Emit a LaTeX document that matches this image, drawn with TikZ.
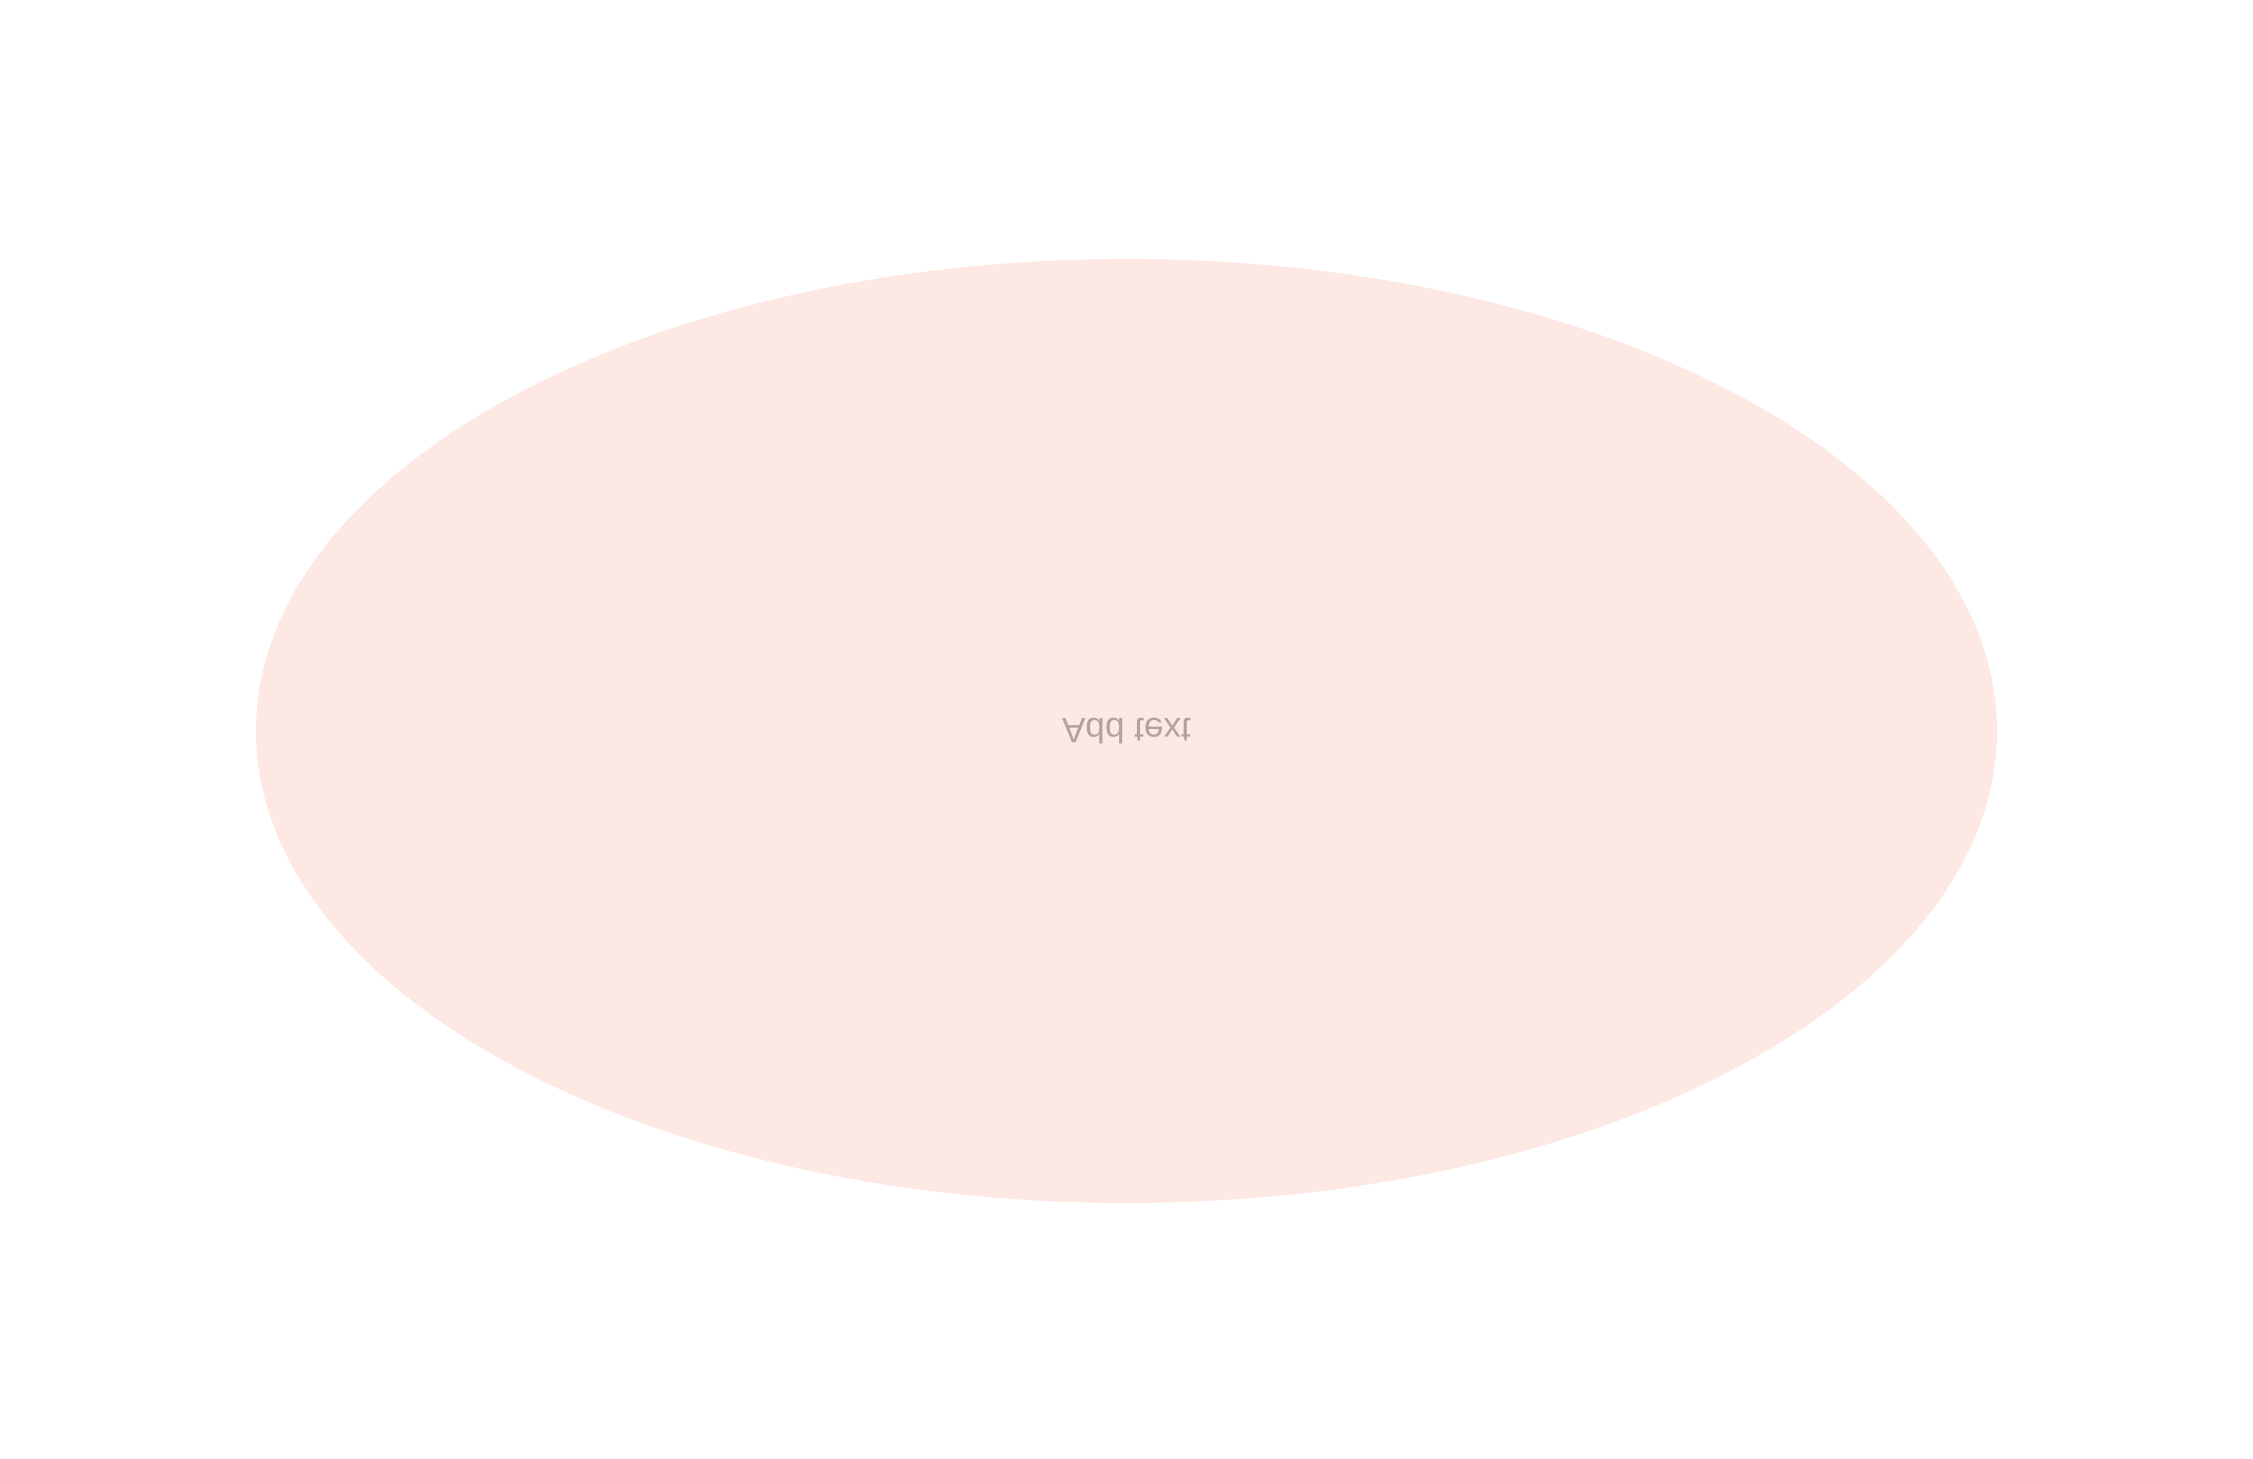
\documentclass[tikz,border=0pt]{standalone}
\usepackage{fontspec}
\setmainfont{Liberation Sans}
\usetikzlibrary{shapes.geometric}
\definecolor{blobfill}{HTML}{FDE8E3}
\definecolor{blobtext}{HTML}{B0A39E}

\begin{document}
\begin{tikzpicture}[
    blob/.style={ellipse, fill=blobfill, draw=none, inner sep=0pt,
        minimum width=17.41cm, minimum height=9.44cm,
        text=blobtext, font=\fontsize{10}{12}\selectfont,
        yscale=-1, transform shape}
]

% Canvas
\useasboundingbox (0, 0) rectangle (22.53, 14.59);

% Nodes
\node[blob] (Blob) at (11.265, 7.28) {Add text};

\end{tikzpicture}
\end{document}
